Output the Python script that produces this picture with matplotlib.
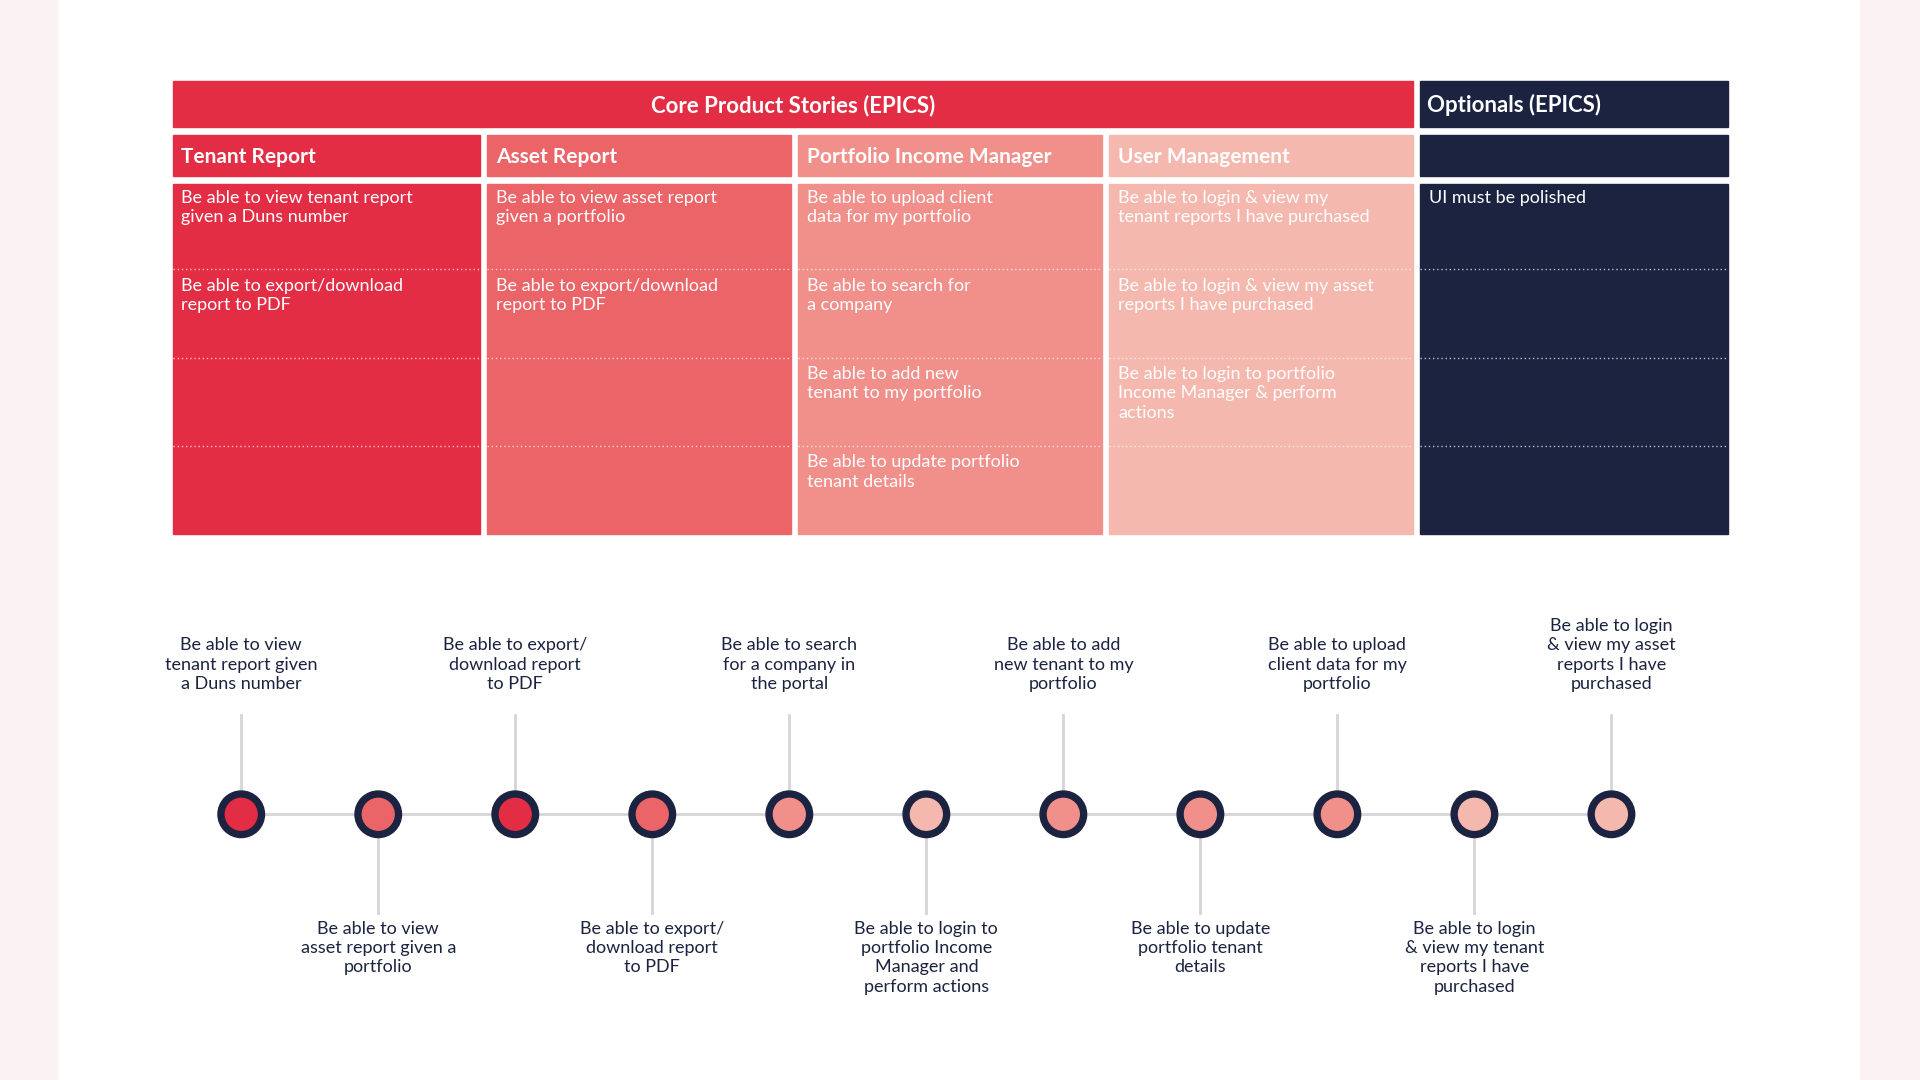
import matplotlib.pyplot as plt
from matplotlib.patches import Rectangle, Circle

plt.rcParams['font.family'] = ['Lato', 'DejaVu Sans']

# table data
epics = ["Tenant Report", "Asset Report", "Portfolio Income Manager", "User Management", ""]
stories = [
    ["Be able to view tenant report\ngiven a Duns number", "Be able to export/download\nreport to PDF"],
    ["Be able to view asset report\ngiven a portfolio", "Be able to export/download\nreport to PDF"],
    ["Be able to upload client\ndata for my portfolio", "Be able to search for\na company",
     "Be able to add new\ntenant to my portfolio", "Be able to update portfolio\ntenant details"],
    ["Be able to login & view my\ntenant reports I have purchased",
     "Be able to login & view my asset\nreports I have purchased",
     "Be able to login to portfolio\nIncome Manager & perform\nactions"],
    ["UI must be polished"],
]
col_colors = ["#E32D45", "#EB6468", "#F1908A", "#F5B8AE", "#1B2340"]

# timeline data
steps = [
    "Be able to view\ntenant report given\na Duns number",
    "Be able to view\nasset report given a\nportfolio",
    "Be able to export/\ndownload report\nto PDF",
    "Be able to export/\ndownload report\nto PDF",
    "Be able to search\nfor a company in\nthe portal",
    "Be able to login to\nportfolio Income\nManager and\nperform actions",
    "Be able to add\nnew tenant to my\nportfolio",
    "Be able to update\nportfolio tenant\ndetails",
    "Be able to upload\nclient data for my\nportfolio",
    "Be able to login\n& view my tenant\nreports I have\npurchased",
    "Be able to login\n& view my asset\nreports I have\npurchased",
]
step_epic = [0, 1, 0, 1, 2, 3, 2, 2, 2, 3, 3]

NAVY = "#1B2340"
fig = plt.figure(figsize=(19.2, 10.8), dpi=100)
ax = fig.add_axes([0, 0, 1, 1])
ax.set_xlim(0, 1568)
ax.set_ylim(882, 0)
ax.axis("off")
fig.patch.set_facecolor("#FBF3F3")
ax.add_patch(Rectangle((48, 0), 1470, 882, color="white", zorder=0))

# headers
ax.add_patch(Rectangle((141, 66), 1013, 38, color="#E32D45"))
ax.text(648, 86, "Core Product Stories (EPICS)", color="white", fontsize=16,
        fontweight="bold", ha="center", va="center")
ax.add_patch(Rectangle((1160, 66), 251, 38, color=NAVY))
ax.text(1165, 86, "Optionals (EPICS)", color="white", fontsize=16,
        fontweight="bold", ha="left", va="center")

col_x = [141, 398, 652, 906, 1160]
col_w = [251, 248, 248, 248, 251]
for i in range(5):
    x, w, c = col_x[i], col_w[i], col_colors[i]
    ax.add_patch(Rectangle((x, 110), w, 34, color=c))
    ax.text(x + 7, 128, epics[i], color="white", fontsize=15, fontweight="bold",
            ha="left", va="center")
    ax.add_patch(Rectangle((x, 150), w, 286, color=c))
    for yy in [220, 292, 364]:
        ax.plot([x, x + w], [yy, yy], color="white", lw=1, ls=(0, (1, 2)), alpha=0.7)
    for j, s in enumerate(stories[i]):
        ax.text(x + 7, 155 + 72 * j, s, color="white", fontsize=13, ha="left",
                va="top", linespacing=1.25)

# timeline
xs = [197 + 111.9 * k for k in range(len(steps))]
ax.plot([xs[0], xs[-1]], [665, 665], color="#D5D5D8", lw=2, zorder=1)
for k, (x, s) in enumerate(zip(xs, steps)):
    if k % 2 == 0:
        ax.plot([x, x], [584, 665], color="#D5D5D8", lw=2, zorder=1)
        nl = s.count("\n")
        ax.text(x, 565, s, color=NAVY, fontsize=13, ha="center", va="bottom",
                linespacing=1.25)
    else:
        ax.plot([x, x], [665, 746], color="#D5D5D8", lw=2, zorder=1)
        ax.text(x, 752, s, color=NAVY, fontsize=13, ha="center", va="top",
                linespacing=1.25)
    ax.add_patch(Circle((x, 665), 19, color=NAVY, zorder=2))
    ax.add_patch(Circle((x, 665), 13, color=col_colors[step_epic[k]], zorder=3))

fig.savefig("out.png", dpi=100)
